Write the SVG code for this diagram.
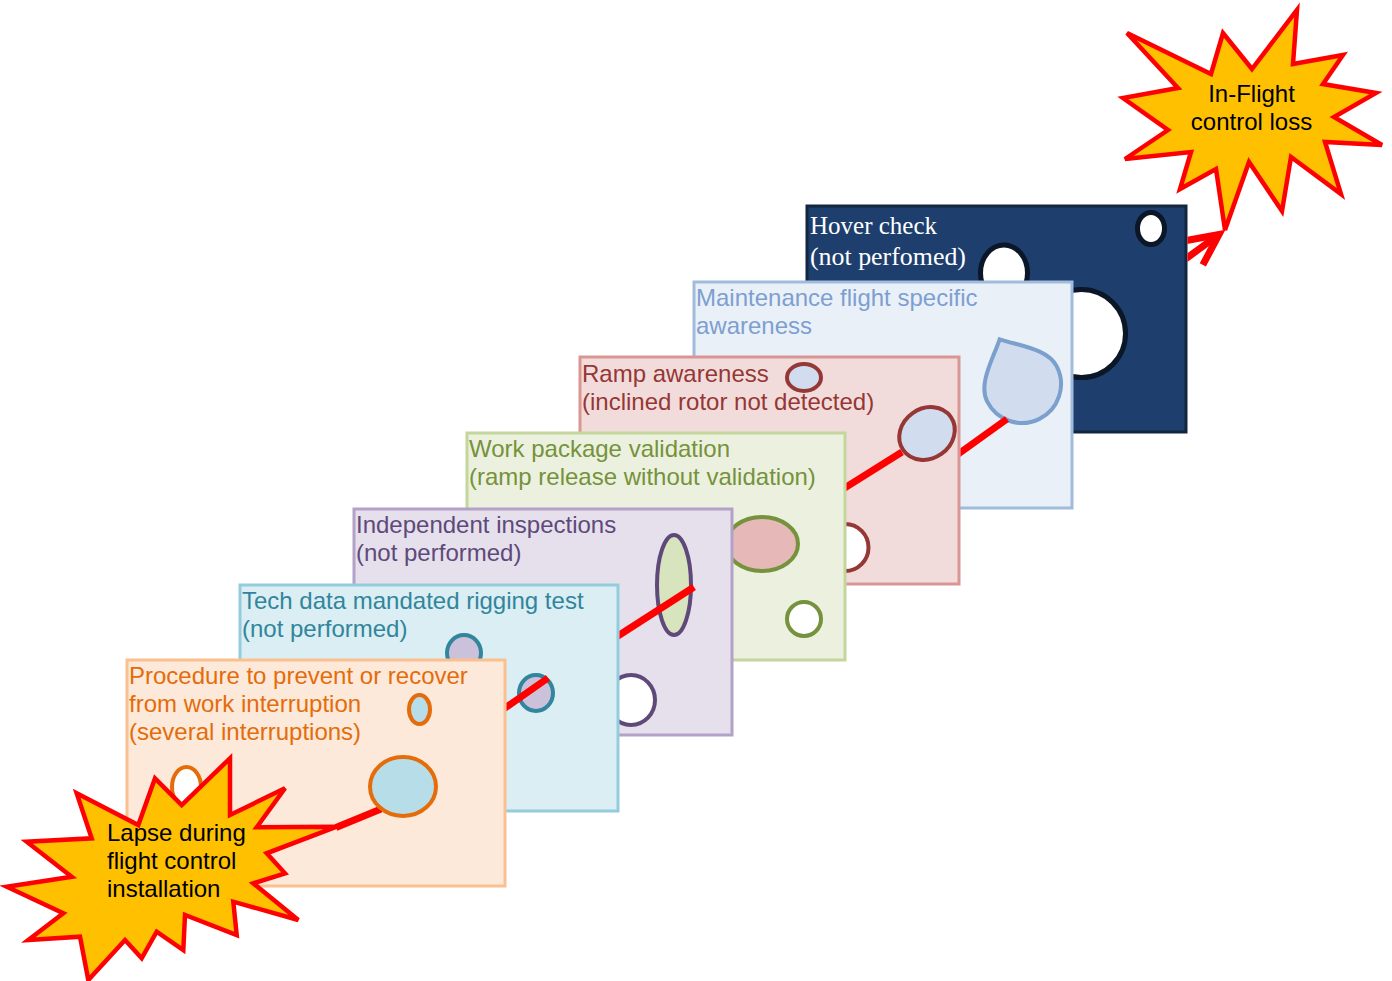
<svg xmlns="http://www.w3.org/2000/svg" width="1392" height="981" viewBox="0 0 1392 981">
  <style>
    .frame { stroke-width: 3; }
    .lbl { font-family: "Liberation Sans", Arial, sans-serif; font-size: 24px; }
    .serif { font-family: "Liberation Serif", "Times New Roman", serif; font-size: 25.5px; fill: #ffffff; }
    .hole { stroke-width: 4; }
    .dhole { stroke-width: 5; stroke: #0b1626; fill: #ffffff; }
    .red { stroke: #ff0000; stroke-width: 7; fill: none; stroke-linecap: butt; }
    .burst { fill: #ffc000; stroke: #ff0000; stroke-width: 4.5; stroke-linejoin: miter; }
    .btext { font-family: "Liberation Sans", Arial, sans-serif; font-size: 24px; fill: #000000; }
  </style>
  <defs>
    <marker id="openArrow" markerUnits="userSpaceOnUse" viewBox="-40 -22 48 44" refX="0" refY="0" markerWidth="48" markerHeight="44" orient="auto" overflow="visible">
      <path d="M-31,-15 L0,0 L-31,15" fill="none" stroke="#ff0000" stroke-width="7" stroke-linejoin="miter"/>
    </marker>
    <clipPath id="cTech"><rect x="506.5" y="0" width="900" height="981"/></clipPath>
    <clipPath id="cInd"><rect x="619.5" y="0" width="900" height="981"/></clipPath>
    <clipPath id="cRamp"><rect x="846.5" y="0" width="900" height="981"/></clipPath>
    <clipPath id="cMaint"><rect x="960.5" y="0" width="900" height="981"/></clipPath>
    <clipPath id="cArrow"><rect x="1187.5" y="0" width="300" height="981"/></clipPath>
  </defs>

  <!-- Slice 7 (back): Hover check -->
  <g id="hover-check">
    <rect class="frame" x="807" y="206" width="379" height="226" fill="#1e3f6e" stroke="#12263f"/>
    <ellipse class="dhole" cx="1151" cy="228.5" rx="13.5" ry="16"/>
    <ellipse class="dhole" cx="1004" cy="273" rx="23.5" ry="28"/>
    <circle class="dhole" cx="1081.5" cy="333.5" r="44"/>
    <text class="serif" x="810" y="233.5" textLength="127" lengthAdjust="spacingAndGlyphs">Hover check</text>
    <text class="serif" x="810" y="265" textLength="156" lengthAdjust="spacingAndGlyphs">(not perfomed)</text>
  </g>

  <!-- Slice 6: Maintenance flight specific awareness -->
  <g id="maintenance-flight">
    <rect class="frame" x="694" y="282" width="378" height="226" fill="#eaf0f8" stroke="#a0bbdc"/>
    <path class="hole" transform="translate(1022,384) rotate(-26.6)" d="M-39,0 A39,39 0 0 0 39,0 C39,-20 15,-35 0,-50 C-15,-35 -39,-20 -39,0 Z" fill="#d1ddee" stroke="#7ba0cd"/>
    <text class="lbl" x="696" y="306" fill="#7d9fd0">Maintenance flight specific</text>
    <text class="lbl" x="696" y="334" fill="#7d9fd0">awareness</text>
  </g>

  <!-- Slice 5: Ramp awareness -->
  <g id="ramp-awareness">
    <rect class="frame" x="580" y="357" width="379" height="227" fill="#f2dcdb" stroke="#d99694"/>
    <ellipse class="hole" cx="804" cy="377.5" rx="17" ry="13.5" fill="#d1ddee" stroke="#953735"/>
    <ellipse class="hole" transform="translate(927,433.5) rotate(-35)" cx="0" cy="0" rx="29" ry="25" fill="#d1ddee" stroke="#953735"/>
    <ellipse class="hole" cx="845" cy="547.5" rx="23.5" ry="23.5" fill="#ffffff" stroke="#953735"/>
    <text class="lbl" x="582" y="382" fill="#953735">Ramp awareness</text>
    <text class="lbl" x="582" y="410" fill="#953735">(inclined rotor not detected)</text>
  </g>

  <!-- Slice 4: Work package validation -->
  <g id="work-package">
    <rect class="frame" x="467" y="433" width="378" height="227" fill="#ebf1de" stroke="#c3d69b"/>
    <ellipse class="hole" cx="762" cy="544" rx="36" ry="27" fill="#e6b9b8" stroke="#76923c"/>
    <circle class="hole" cx="804" cy="619" r="17" fill="#ffffff" stroke="#76923c"/>
    <text class="lbl" x="469" y="457" fill="#76923c">Work package validation</text>
    <text class="lbl" x="469" y="485" fill="#76923c">(ramp release without validation)</text>
  </g>

  <!-- Slice 3: Independent inspections -->
  <g id="independent-inspections">
    <rect class="frame" x="354" y="509" width="378" height="226" fill="#e5e0ec" stroke="#b3a2c7"/>
    <ellipse class="hole" cx="674" cy="585" rx="17" ry="50" fill="#d7e4bd" stroke="#5f497a"/>
    <ellipse class="hole" cx="631" cy="700" rx="24" ry="25" fill="#ffffff" stroke="#5f497a"/>
    <text class="lbl" x="356" y="532.5" fill="#5f497a">Independent inspections</text>
    <text class="lbl" x="356" y="561" fill="#5f497a">(not performed)</text>
  </g>

  <!-- Slice 2: Tech data mandated rigging test -->
  <g id="tech-data">
    <rect class="frame" x="240" y="585" width="378" height="226" fill="#daeef3" stroke="#93cddd"/>
    <ellipse class="hole" cx="464" cy="653" rx="17" ry="18" fill="#ccc1da" stroke="#31859c"/>
    <ellipse class="hole" cx="536" cy="693" rx="17" ry="18" fill="#ccc1da" stroke="#31859c"/>
    <text class="lbl" x="242" y="608.5" fill="#31859c">Tech data mandated rigging test</text>
    <text class="lbl" x="242" y="636.5" fill="#31859c">(not performed)</text>
  </g>

  <!-- Slice 1 (front): Procedure -->
  <g id="procedure">
    <rect class="frame" x="127" y="660" width="378" height="226" fill="#fde9d9" stroke="#fac090"/>
    <ellipse class="hole" cx="419.5" cy="709.5" rx="10.5" ry="14.5" fill="#b7dee8" stroke="#e46c0a"/>
    <ellipse class="hole" cx="186.5" cy="787" rx="14.5" ry="20" fill="#ffffff" stroke="#e46c0a"/>
    <text class="lbl" x="129" y="683.5" fill="#e46c0a">Procedure to prevent or recover</text>
    <text class="lbl" x="129" y="711.5" fill="#e46c0a">from work interruption</text>
    <text class="lbl" x="129" y="739.5" fill="#e46c0a">(several interruptions)</text>
  </g>

  <!-- Connectors: red trajectory through the holes -->
  <g id="connectors">
    <line class="red" x1="381" y1="809" x2="336" y2="827.5"/>
    <line class="red" clip-path="url(#cTech)" x1="548" y1="678" x2="495" y2="715"/>
    <line class="red" clip-path="url(#cInd)" x1="694" y1="587" x2="610" y2="641"/>
    <line class="red" clip-path="url(#cRamp)" x1="902" y1="452" x2="835" y2="494"/>
    <line class="red" clip-path="url(#cMaint)" x1="1007" y1="419" x2="950" y2="460"/>
    <line class="red" clip-path="url(#cArrow)" x1="1180" y1="263" x2="1219" y2="234.5" marker-end="url(#openArrow)"/>
  </g>
  <!-- big procedure hole drawn above its line end -->
  <g id="procedure-main-hole">
    <ellipse class="hole" cx="403" cy="786.5" rx="33" ry="29.5" fill="#b7dee8" stroke="#e46c0a"/>
  </g>

  <!-- Start burst -->
  <g id="lapse">
    <polygon class="burst" points="230,758.3 230,815 285,788.3 256.7,827.3 336.7,826.7 266.7,853.3 285,873.3 253.3,883.3 298.3,920 233.3,901.7 236.7,935 185,915 183.3,950 156.7,931.7 141.7,958.3 125,940 88.3,980 80,936.7 28.3,940 63.3,913.3 6.7,886.7 71.7,876.7 26.7,841.7 91.7,838.3 76.7,793.3 138.3,825 155,778.3 181.7,805"/>
    <text class="btext" x="107" y="841">Lapse during</text>
    <text class="btext" x="107" y="869">flight control</text>
    <text class="btext" x="107" y="897">installation</text>
  </g>

  <!-- End burst -->
  <g id="in-flight-loss">
    <polygon class="burst" points="1252,69 1297,10 1293,64 1343,55 1323,84 1376,93 1334,117 1382,145 1325,142 1341,194 1291,157 1282,211 1249,162 1225,230 1216,169 1180,189 1191,152 1125,159 1168,130 1123,98 1178,88 1127,33 1211,74 1223,33"/>
    <text class="btext" x="1251.5" y="101.5" text-anchor="middle">In-Flight</text>
    <text class="btext" x="1251.5" y="129.5" text-anchor="middle">control loss</text>
  </g>
</svg>
